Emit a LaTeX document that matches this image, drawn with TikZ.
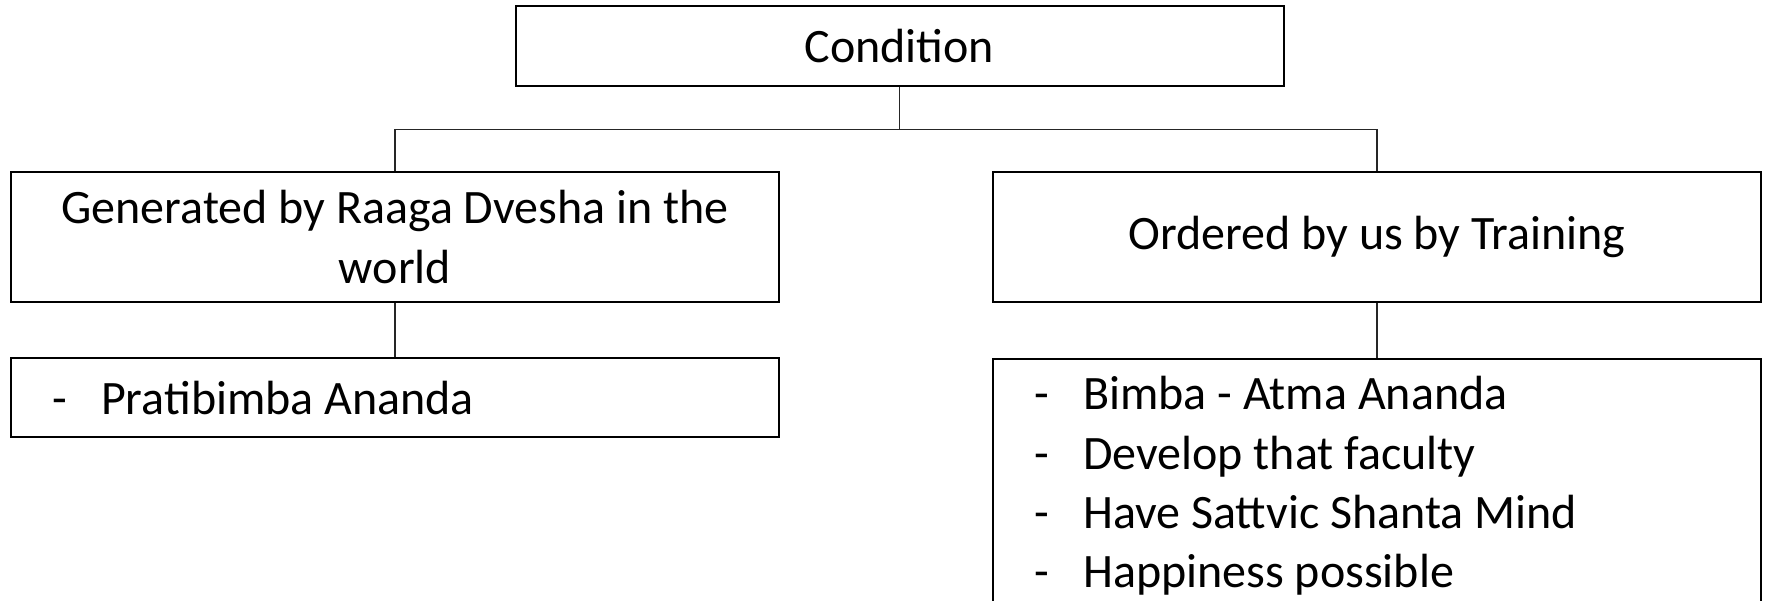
\documentclass[tikz,border=0pt]{standalone}
\usepackage{fontspec}
\setmainfont{Carlito}
\usetikzlibrary{calc}
\begin{document}
\begin{tikzpicture}[x=1pt,y=-1pt,
  box/.style={draw=black,line width=2pt,rectangle,minimum width=768pt,inner sep=0pt,align=center,font=\fontsize{48}{60}\selectfont},
  conn/.style={draw=black!85,line width=1.2pt},
  listtext/.style={anchor=base west,inner sep=0pt,font=\fontsize{48}{58}\selectfont}]
\useasboundingbox (0,0) rectangle (1765,601);
\clip (0,0) rectangle (1765,601);
\node[box,minimum height=80pt] (cond) at (899.5,46) {Condition};
\node[box,minimum height=130pt] (gen) at (395,237) {Generated by Raaga Dvesha in the\\world};
\node[box,minimum height=130pt] (ord) at (1377,237) {Ordered by us by Training};
\node[box,minimum height=79pt] (prat) at (395,397.5) {};
\node[box,minimum height=300pt,anchor=north] (bimba) at (1377,358) {};
\coordinate (bus) at (cond.south |- 0,129.5);
\draw[conn] (cond.south) -- (bus);
\draw[conn] (gen.north) |- (bus) -| (ord.north);
\draw[conn] (gen.south) -- (prat.north);
\draw[conn] (ord.south) -- (bimba.north);
\node[listtext] (p1) at ($(prat.north west)+(42,58)$) {\makebox[49pt][l]{-}Pratibimba Ananda};
\node[listtext] (b1) at ($(bimba.north west)+(42,52)$) {\makebox[49pt][l]{-}Bimba - Atma Ananda};
\node[listtext] (b2) at ($(bimba.north west)+(42,111)$) {\makebox[49pt][l]{-}Develop that faculty};
\node[listtext] (b3) at ($(bimba.north west)+(42,170)$) {\makebox[49pt][l]{-}Have Sattvic Shanta Mind};
\node[listtext] (b4) at ($(bimba.north west)+(42,229)$) {\makebox[49pt][l]{-}Happiness possible};
\end{tikzpicture}
\end{document}
